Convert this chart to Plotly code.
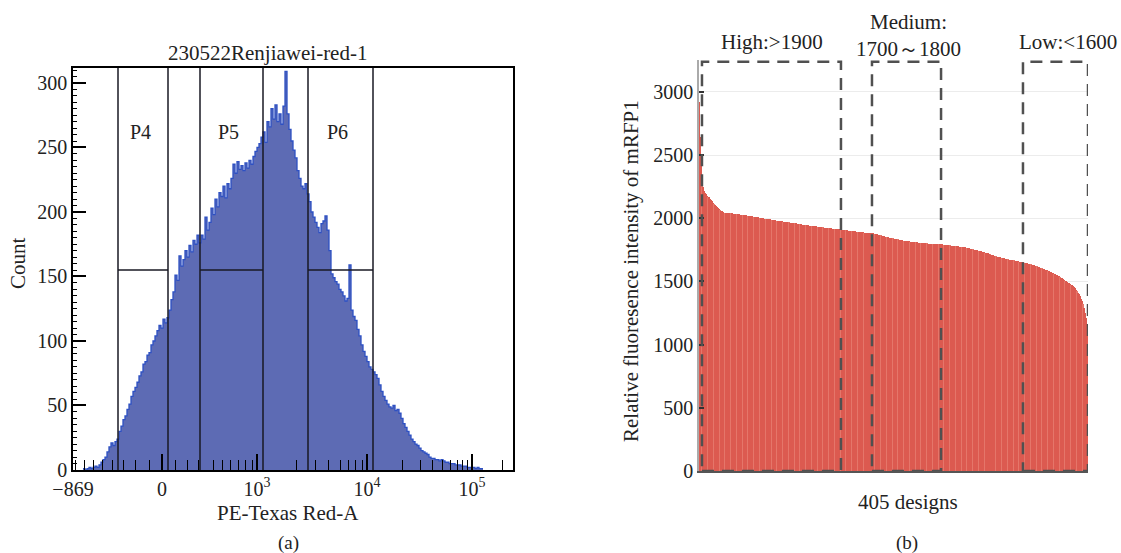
import plotly.graph_objects as go

W, H = 1121, 553
SERIF = "Liberation Serif"

# ---------------- panel (a): histogram on a display-channel (biexponential) axis ----------------
hist_first_edge = 10      # display channel of first bin's left edge
hist_bin_width = 2        # display channels per bin
hist_counts = [
    1, 0, 1, 2, 1, 2, 3, 2, 4, 6,
    8, 10, 14, 18, 21, 19, 22, 24, 30, 34,
    39, 42, 47, 51, 57, 61, 64, 68, 73, 76,
    82, 84, 89, 91, 97, 100, 104, 108, 112, 110,
    117, 114, 118, 124, 132, 138, 151, 147, 166, 158,
    163, 170, 165, 174, 169, 178, 175, 182, 176, 182,
    179, 196, 186, 192, 203, 198, 210, 204, 215, 212,
    220, 211, 222, 218, 226, 237, 230, 239, 233, 236,
    232, 238, 234, 240, 237, 243, 247, 250, 253, 258,
    262, 254, 270, 266, 280, 272, 283, 270, 276, 268,
    282, 309, 276, 264, 255, 248, 242, 232, 226, 220,
    218, 222, 214, 208, 200, 196, 192, 188, 184, 191,
    193, 197, 186, 170, 152, 149, 146, 144, 140, 138,
    135, 131, 133, 159, 124, 119, 116, 109, 104, 97,
    92, 88, 84, 80, 78, 76, 74, 71, 66, 61,
    57, 54, 51, 49, 48, 50, 46, 47, 44, 40,
    36, 33, 30, 27, 24, 22, 20, 19, 17, 15,
    14, 13, 12, 10, 9, 9, 8, 8, 7, 8,
    7, 6, 6, 5, 5, 5, 4, 4, 4, 3,
    3, 3, 2, 2, 2, 2, 1, 2, 1, 1,
]
axis_channel_max = 440
major_tick_channels = [0, 89, 184, 294, 399]
major_tick_text = ["−869", "0", "10<sup>3</sup>", "10<sup>4</sup>", "10<sup>5</sup>"]
minor_tick_channels = [2, 11, 20, 29, 39, 50, 62, 76, 102, 114, 125, 140, 149, 157, 165,
                       172, 179, 223, 242, 255, 267, 275, 282, 289, 329, 347, 359, 369,
                       377, 384, 389, 394, 429]
count_ticks = [0, 50, 100, 150, 200, 250, 300]
count_max = 311.6
gate_names = ["P4", "P5", "P6"]
gate_left = [45, 127, 235]
gate_right = [95, 190, 300]
gate_level = 155
gate_label_level = 262

# ---------------- panel (b): 405 designs, sorted fluorescence ----------------
design_values = [
    2920, 2640, 2450, 2290, 2245, 2215, 2200, 2190, 2180, 2172,
    2165, 2155, 2146, 2135, 2124, 2115, 2105, 2095, 2088, 2080,
    2072, 2066, 2060, 2055, 2050, 2048, 2046, 2045, 2044, 2043,
    2042, 2041, 2040, 2040, 2039, 2038, 2037, 2036, 2035, 2034,
    2033, 2032, 2030, 2029, 2028, 2027, 2026, 2025, 2024, 2022,
    2021, 2020, 2018, 2017, 2016, 2015, 2013, 2012, 2011, 2010,
    2008, 2007, 2005, 2004, 2003, 2001, 2000, 1998, 1997, 1996,
    1994, 1993, 1992, 1991, 1989, 1988, 1987, 1985, 1984, 1983,
    1982, 1981, 1980, 1978, 1977, 1976, 1975, 1974, 1972, 1971,
    1970, 1969, 1968, 1967, 1966, 1964, 1963, 1962, 1961, 1960,
    1959, 1958, 1957, 1956, 1955, 1953, 1952, 1951, 1950, 1949,
    1948, 1947, 1945, 1944, 1943, 1942, 1941, 1940, 1939, 1938,
    1937, 1936, 1935, 1934, 1933, 1932, 1931, 1930, 1929, 1928,
    1927, 1926, 1925, 1924, 1923, 1922, 1921, 1920, 1919, 1918,
    1917, 1916, 1915, 1914, 1913, 1913, 1912, 1911, 1910, 1909,
    1908, 1907, 1906, 1905, 1904, 1903, 1902, 1901, 1900, 1899,
    1898, 1897, 1896, 1895, 1894, 1893, 1892, 1891, 1890, 1889,
    1888, 1887, 1886, 1885, 1884, 1884, 1883, 1882, 1882, 1881,
    1881, 1880, 1878, 1876, 1874, 1872, 1870, 1868, 1866, 1864,
    1862, 1860, 1858, 1856, 1854, 1852, 1850, 1848, 1846, 1844,
    1842, 1841, 1840, 1838, 1837, 1836, 1835, 1833, 1832, 1830,
    1828, 1826, 1824, 1822, 1821, 1820, 1819, 1818, 1817, 1816,
    1815, 1814, 1813, 1812, 1811, 1810, 1809, 1808, 1807, 1806,
    1806, 1805, 1804, 1804, 1803, 1802, 1802, 1801, 1800, 1800,
    1799, 1799, 1798, 1798, 1797, 1797, 1796, 1796, 1795, 1795,
    1794, 1794, 1793, 1793, 1792, 1791, 1790, 1789, 1788, 1787,
    1786, 1785, 1784, 1783, 1782, 1781, 1780, 1779, 1778, 1777,
    1776, 1775, 1774, 1773, 1772, 1771, 1770, 1769, 1768, 1767,
    1765, 1763, 1761, 1759, 1757, 1755, 1753, 1751, 1749, 1747,
    1745, 1743, 1741, 1739, 1737, 1734, 1732, 1729, 1727, 1724,
    1722, 1719, 1716, 1714, 1711, 1708, 1706, 1703, 1700, 1698,
    1696, 1694, 1692, 1690, 1688, 1686, 1684, 1682, 1680, 1679,
    1677, 1676, 1674, 1673, 1671, 1670, 1668, 1667, 1665, 1664,
    1663, 1661, 1660, 1658, 1657, 1655, 1653, 1651, 1649, 1647,
    1645, 1643, 1641, 1639, 1637, 1635, 1633, 1631, 1628, 1626,
    1624, 1621, 1618, 1616, 1613, 1610, 1607, 1604, 1600, 1597,
    1594, 1591, 1588, 1585, 1582, 1578, 1574, 1570, 1566, 1562,
    1558, 1554, 1550, 1546, 1541, 1536, 1531, 1526, 1521, 1516,
    1510, 1505, 1500, 1495, 1490, 1485, 1480, 1475, 1470, 1463,
    1455, 1446, 1436, 1425, 1412, 1398, 1382, 1365, 1345, 1320,
    1290, 1250, 1210, 1160, 1100,
]
fluor_ticks = [0, 500, 1000, 1500, 2000, 2500, 3000]
fluor_max = 3253
group_labels = ["High:>1900", "Medium:<br>1700～1800", "Low:<1600"]
group_start = [2.6, 179.6, 336.8]
group_end = [147.3, 251.5, 404.5]
group_box_top = 3240


def px_x(p):
    return p / W


def px_y(p):
    return (H - p) / H


def label(text, x, y, size=21, angle=0, xref="paper", yref="paper"):
    return dict(text=text, x=x, y=y, xref=xref, yref=yref, xanchor="center", yanchor="middle",
                textangle=angle, showarrow=False, align="center",
                font=dict(family=SERIF, size=size, color="#222"))


fig = go.Figure()

# ---- (a) histogram fill + outline ----
n_bins = len(hist_counts)
bin_left = [hist_first_edge + hist_bin_width * k for k in range(n_bins)]
bin_mid = [b + hist_bin_width / 2 for b in bin_left]
fig.add_trace(go.Bar(
    x=bin_mid, y=hist_counts, width=hist_bin_width,
    marker=dict(color="rgb(93,107,180)", line=dict(width=0)),
    xaxis="x", yaxis="y", showlegend=False, hoverinfo="skip",
))
fig.add_trace(go.Scatter(
    x=bin_left + [bin_left[-1] + hist_bin_width],
    y=hist_counts + [hist_counts[-1]],
    mode="lines", line=dict(shape="hv", color="rgb(45,80,195)", width=1.3),
    xaxis="x", yaxis="y", showlegend=False, hoverinfo="skip",
))

# ---- (b) sorted bars (faint lighter stripe every few bars, as in the scanned figure) ----
bar_colors = ["rgb(229,118,106)" if k % 6 == 3 else "rgb(220,90,80)" for k in range(len(design_values))]
fig.add_trace(go.Bar(
    x=list(range(len(design_values))), y=design_values, width=1,
    marker=dict(color=bar_colors, line=dict(width=0)),
    xaxis="x2", yaxis="y2", showlegend=False, hoverinfo="skip",
))

shapes = []
# gates of panel (a)
for name, g0, g1 in zip(gate_names, gate_left, gate_right):
    for gx in (g0, g1):
        shapes.append(dict(type="line", xref="x", yref="y", x0=gx, x1=gx, y0=0, y1=count_max,
                           line=dict(color="rgb(25,25,35)", width=1.5), layer="above"))
    shapes.append(dict(type="line", xref="x", yref="y", x0=g0, x1=g1, y0=gate_level, y1=gate_level,
                       line=dict(color="rgb(25,25,35)", width=1.5), layer="above"))

# dashed group boxes of panel (b)
for s, e in zip(group_start, group_end):
    shapes.append(dict(type="rect", xref="x2", yref="y2", x0=s, x1=e, y0=0, y1=group_box_top,
                       line=dict(color="rgb(80,80,80)", width=2.5, dash="12px,8px"),
                       fillcolor="rgba(0,0,0,0)", layer="above"))

annotations = []
# panel (a) texts
annotations.append(label("230522Renjiawei-red-1", px_x(267), px_y(53)))
for name, g0, g1 in zip(gate_names, gate_left, gate_right):
    annotations.append(label(name, (g0 + g1) / 2 - 3, gate_label_level, size=20, xref="x", yref="y"))
annotations.append(label("Count", px_x(18), px_y(263), angle=-90))
annotations.append(label("PE-Texas Red-A", px_x(288), px_y(513)))
annotations.append(label("(a)", px_x(288), px_y(543), size=19))

# panel (b) texts
group_label_pos = [(772, 42), (908, 35), (1068, 42)]
for lab, (gx, gy) in zip(group_labels, group_label_pos):
    annotations.append(label(lab, px_x(gx), px_y(gy)))
annotations.append(label("Relative fluoresence intensity of mRFP1", px_x(631), px_y(271), angle=-90))
annotations.append(label("405 designs", px_x(908), px_y(502)))
annotations.append(label("(b)", px_x(907), px_y(543), size=19))

fig.update_layout(
    width=W, height=H, margin=dict(l=0, r=0, t=0, b=0, autoexpand=False),
    paper_bgcolor="white", plot_bgcolor="white",
    bargap=0, showlegend=False,
    xaxis=dict(
        domain=[px_x(73), px_x(513)], range=[0, axis_channel_max], anchor="y", automargin=False,
        showline=True, mirror=True, linecolor="black", linewidth=1.5,
        showgrid=False, zeroline=False,
        tickmode="array", tickvals=major_tick_channels, ticktext=major_tick_text,
        ticks="inside", ticklen=16, tickwidth=1.5, tickcolor="black",
        tickfont=dict(family=SERIF, size=20, color="#222"),
        minor=dict(tickmode="array", tickvals=minor_tick_channels, ticks="inside",
                   ticklen=10, tickwidth=1.3, tickcolor="black", showgrid=False),
    ),
    yaxis=dict(
        domain=[px_y(470), px_y(68)], range=[0, count_max], anchor="x", automargin=False,
        showline=True, mirror=True, linecolor="black", linewidth=1.5,
        showgrid=False, zeroline=False,
        tickmode="array", tickvals=count_ticks,
        ticks="inside", ticklen=13, tickwidth=1.5, tickcolor="black",
        tickfont=dict(family=SERIF, size=20, color="#222"),
        minor=dict(dtick=5, ticks="inside", ticklen=4, tickwidth=1, tickcolor="black", showgrid=False),
    ),
    xaxis2=dict(
        domain=[px_x(699), px_x(1088)], range=[-0.5, len(design_values) - 0.5], anchor="y2",
        automargin=False,
        showline=True, linecolor="rgb(85,85,85)", linewidth=2,
        showgrid=False, zeroline=False, showticklabels=False, ticks="",
    ),
    yaxis2=dict(
        domain=[px_y(471), px_y(60)], range=[0, fluor_max], anchor="x2", automargin=False,
        showline=True, linecolor="rgb(170,170,170)", linewidth=1.5,
        showgrid=True, gridcolor="rgb(236,236,236)", gridwidth=1, zeroline=False,
        tickmode="array", tickvals=fluor_ticks,
        ticks="inside", ticklen=5, tickwidth=1.5, tickcolor="rgb(50,50,50)",
        tickfont=dict(family=SERIF, size=20, color="#222"),
    ),
    shapes=shapes, annotations=annotations,
)

fig.write_html("out.html")
